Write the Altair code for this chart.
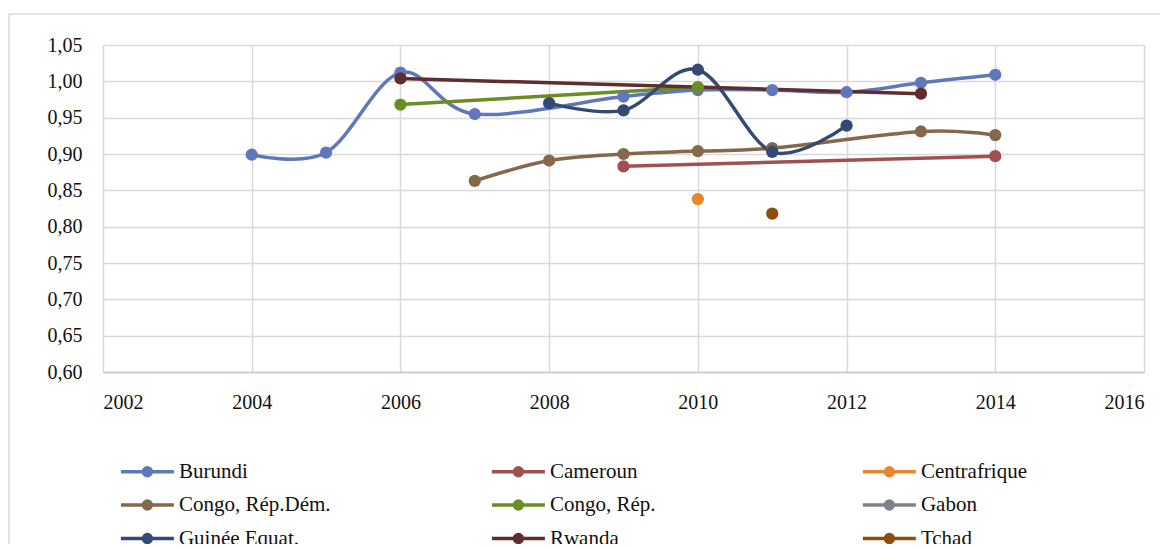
import altair as alt
import pandas as pd

countries = ["Burundi", "Cameroun", "Centrafrique", "Congo, Rép.Dém.", "Congo, Rép.",
             "Gabon", "Guinée Equat.", "Rwanda", "Tchad"]
colors = ["#6077B9", "#A0514F", "#E8872A", "#85684A", "#6A8E23",
          "#7B8388", "#344A75", "#5E2D2E", "#8C4D0F"]

burundi_years = [2004, 2005, 2006, 2007, 2009, 2010, 2011, 2012, 2013, 2014]
burundi_vals = [0.899, 0.902, 1.012, 0.955, 0.979, 0.988, 0.988, 0.985, 0.998, 1.009]
cameroun_years = [2009, 2014]
cameroun_vals = [0.883, 0.897]
centrafrique_years = [2010]
centrafrique_vals = [0.838]
rdc_years = [2007, 2008, 2009, 2010, 2011, 2013, 2014]
rdc_vals = [0.863, 0.891, 0.900, 0.904, 0.908, 0.931, 0.926]
congo_years = [2006, 2010]
congo_vals = [0.968, 0.992]
gabon_years = []
gabon_vals = []
guinee_years = [2008, 2009, 2010, 2011, 2012]
guinee_vals = [0.970, 0.960, 1.016, 0.903, 0.939]
rwanda_years = [2006, 2013]
rwanda_vals = [1.004, 0.983]
tchad_years = [2011]
tchad_vals = [0.818]

x_ticks = [2002, 2004, 2006, 2008, 2010, 2012, 2014, 2016]
y_ticks = [0.60, 0.65, 0.70, 0.75, 0.80, 0.85, 0.90, 0.95, 1.00, 1.05]

series = [
    (countries[0], burundi_years, burundi_vals),
    (countries[1], cameroun_years, cameroun_vals),
    (countries[2], centrafrique_years, centrafrique_vals),
    (countries[3], rdc_years, rdc_vals),
    (countries[4], congo_years, congo_vals),
    (countries[5], gabon_years, gabon_vals),
    (countries[6], guinee_years, guinee_vals),
    (countries[7], rwanda_years, rwanda_vals),
    (countries[8], tchad_years, tchad_vals),
]
rows = []
for name, ys, vs in series:
    for i, (yr, v) in enumerate(zip(ys, vs)):
        rows.append({"pays": name, "annee": yr, "valeur": v, "ordre": i})
df = pd.DataFrame(rows)

FONT = "Liberation Serif"
GRID = "#D9D9D9"

legend_symbol = ("M-2.5,0H2.5"
                 "M-0.19,0A0.19,0.19,0,1,1,0.19,0A0.19,0.19,0,1,1,-0.19,0Z"
                 "M-0.37,0A0.37,0.37,0,1,1,0.37,0A0.37,0.37,0,1,1,-0.37,0Z")

color = alt.Color(
    "pays:N",
    scale=alt.Scale(domain=countries, range=colors),
    legend=alt.Legend(
        title=None, orient="none", legendX=16, legendY=414, columns=3,
        direction="horizontal",
        gridAlign="all", columnPadding=153, rowPadding=9.5,
        symbolType=legend_symbol, symbolSize=449, symbolStrokeWidth=3.5,
        symbolOffset=15.9, symbolFillColor="transparent",
        labelFont=FONT, labelFontSize=21, labelColor="#111111",
        labelOffset=19, labelLimit=400, padding=0,
    ),
)

x = alt.X("annee:Q", scale=alt.Scale(domain=[2002, 2016], nice=False, zero=False),
          axis=alt.Axis(values=x_ticks, format="d", title=None, labelFont=FONT,
                        labelFontSize=20, labelColor="#111111", tickSize=0,
                        labelPadding=20, grid=True, gridColor=GRID, gridWidth=1.5,
                        domain=True, domainColor="#C8C8C8", domainWidth=1.5))
y = alt.Y("valeur:Q", scale=alt.Scale(domain=[0.60, 1.05], nice=False, zero=False),
          axis=alt.Axis(values=y_ticks, title=None, labelFont=FONT, labelFontSize=20,
                        labelColor="#111111", tickSize=0, labelPadding=21,
                        labelExpr="replace(format(datum.value, '.2f'), '.', ',')",
                        grid=True, gridColor=GRID, gridWidth=1.5, domain=False))

border = alt.Chart(pd.DataFrame({"a": [0]})).mark_rect(
    fill=None, stroke=GRID, strokeWidth=1.5
).encode(x=alt.value(-94), x2=alt.value(1200), y=alt.value(-31), y2=alt.value(700))

lines = alt.Chart(df).mark_line(interpolate="cardinal", strokeWidth=3.5).encode(
    x=x, y=y, color=color, order="ordre:Q"
)
points = alt.Chart(df).mark_circle(size=150, opacity=1).encode(
    x=x, y=y, color=alt.Color("pays:N", scale=alt.Scale(domain=countries, range=colors), legend=None)
)

chart = alt.layer(border, lines, points).properties(
    width=1041, height=327,
    autosize=alt.AutoSizeParams(type="none"),
    padding={"left": 95, "top": 37, "right": 16, "bottom": 172},
).configure_view(stroke=None)

chart.save("out.html", embed_options={"renderer": "svg", "actions": False})
